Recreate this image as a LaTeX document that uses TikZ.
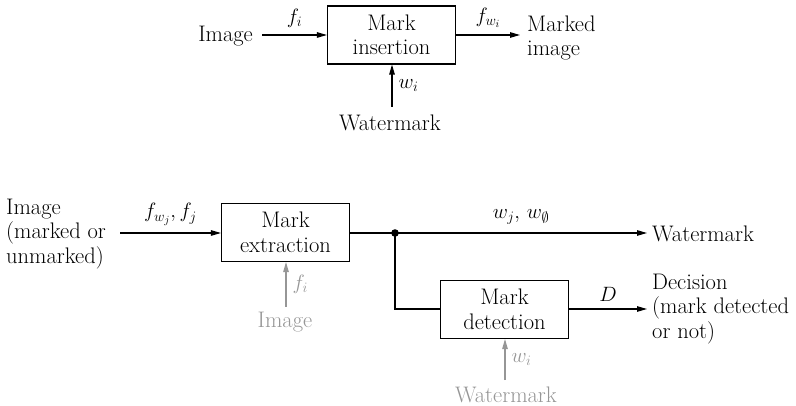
\documentclass[tikz,border=0pt]{standalone}
\usepackage{amssymb}
\usetikzlibrary{arrows.meta}
\definecolor{lg}{RGB}{150,150,150}
\begin{document}
\begin{tikzpicture}[x=1pt,y=-1pt,
  every node/.style={font=\fontsize{22.5}{24.5}\selectfont, inner sep=0pt},
  blk/.style={draw, line width=1.1pt, minimum width=128pt, minimum height=58pt, align=center},
  conn/.style={line width=1.1pt},
  arr/.style={conn, -{Triangle[length=10pt,width=5.5pt]}},
  garr/.style={arr, draw=lg},
  lbl/.style={align=left}]
\useasboundingbox (0,0) rectangle (796,406);
% top diagram
\node[anchor=east] (timg) at (253,36) {Image};
\node[blk] (ins) at (391.5,35) {Mark\\insertion};
\node[lbl, anchor=west] (tout) at (527,38) {Marked\\image};
\node (twm) at (390,123) {Watermark};
\coordinate (tin) at (262,35);
\coordinate (toute) at (520,35);
\coordinate (twmt) at (392,107);
\draw[arr] (tin) -- (ins.west |- tin) node[midway, above=7pt] {$f_i$};
\draw[arr] (ins.east |- toute) -- (toute) node[midway, above=7pt] {$f_{w_i}$};
\draw[arr] (twmt) -- (twmt |- ins.south) node[midway, right=6pt] {$w_i$};
% bottom diagram
\node[lbl, anchor=west] (bimg) at (6,234) {Image\\(marked or\\unmarked)};
\node[blk] (ext) at (285.5,232.5) {Mark\\extraction};
\node[blk] (det) at (504.5,309.5) {Mark\\detection};
\node[anchor=west] (bwm) at (652,234) {Watermark};
\node[lbl, anchor=west] (dec) at (652,309) {Decision\\(mark detected\\or not)};
\node[text=lg] (gimg) at (285,322) {Image};
\node[text=lg] (gwm) at (506,395) {Watermark};
\coordinate (bin) at (120,233);
\coordinate (dot) at (395,233);
\coordinate (bwme) at (647,233);
\coordinate (dece) at (647,309);
\coordinate (corner) at (395,309);
\coordinate (gimgt) at (286,307);
\coordinate (gwmt) at (505,380);
\draw[arr] (bin) -- (ext.west |- bin) node[midway, above=7pt] {$f_{w_j}, f_j$};
\draw[conn] (ext.east |- dot) -- (dot);
\fill (dot) circle (3.8pt);
\draw[arr] (dot) -- (bwme) node[midway, above=8pt] {$w_j,\, w_\emptyset$};
\draw[conn] (dot) -- (corner) -- (det.west |- corner);
\draw[arr] (det.east |- dece) -- (dece) node[midway, above=7pt] {$D$};
\draw[garr] (gimgt) -- (gimgt |- ext.south) node[midway, right=6pt, text=lg] {$f_i$};
\draw[garr] (gwmt) -- (gwmt |- det.south) node[midway, right=6pt, text=lg] {$w_i$};
\end{tikzpicture}
\end{document}
